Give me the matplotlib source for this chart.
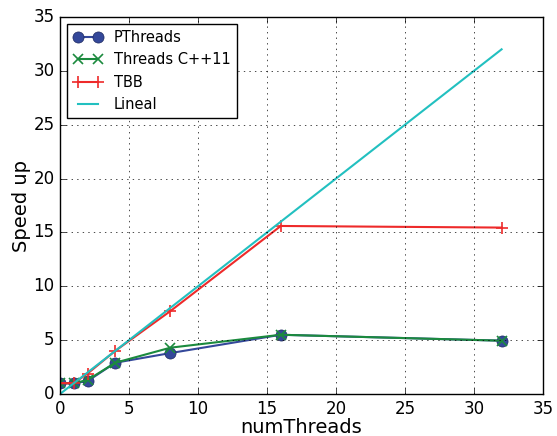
import matplotlib
matplotlib.use("Agg")
import matplotlib.pyplot as plt

# speed up measurements per thread count
num_threads = [0, 1, 2, 4, 8, 16, 32]
pthreads = [1.0, 1.0, 1.2, 2.9, 3.8, 5.5, 4.95]
threads_cpp11 = [1.0, 1.0, 1.3, 2.9, 4.3, 5.5, 4.95]
tbb = [1.0, 1.0, 1.9, 4.0, 7.7, 15.6, 15.45]
lineal = [0, 1, 2, 4, 8, 16, 32]


def main():
    plt.style.use("classic")
    fig = plt.figure(figsize=(5.57, 4.36), dpi=100, facecolor="white")
    ax = fig.add_axes([60 / 557, 42 / 436, 483 / 557, 377 / 436])

    ax.plot(num_threads, pthreads, "-o", color="#34489a", mfc="#34489a",
            mec="#1e2a60", lw=1.5, ms=8, label="PThreads")
    ax.plot(num_threads, threads_cpp11, "-x", color="#1b8a3e", mew=1.2,
            lw=1.5, ms=7, label="Threads C++11")
    ax.plot(num_threads, tbb, "-+", color="#ee2a2a", mew=1.2,
            lw=1.5, ms=8, label="TBB")
    ax.plot(num_threads, lineal, "-", color="#22c0c0", lw=1.5, label="Lineal")

    ax.set_xlim(0, 35)
    ax.set_ylim(0, 35)
    ax.grid(True, linestyle=":", color="black")
    ax.set_xlabel("numThreads", fontsize=14, labelpad=0)
    ax.set_ylabel("Speed up", fontsize=14, labelpad=2)
    ax.tick_params(labelsize=12)
    ax.legend(loc="upper left", fontsize=10.5, numpoints=2, borderaxespad=0.5)

    fig.savefig("out.png", dpi=100, facecolor="white")


if __name__ == "__main__":
    main()
